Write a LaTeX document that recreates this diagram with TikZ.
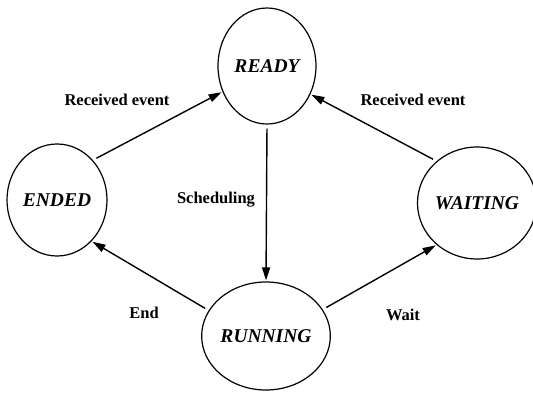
\documentclass[tikz,border=0pt]{standalone}
\usepackage{fontspec}
\setmainfont{Liberation Serif}
\usetikzlibrary{arrows.meta,shapes.geometric}

\begin{document}
\begin{tikzpicture}[x=1pt, y=1pt, >={Triangle[length=13pt,width=8pt]},
      state/.style={draw, ellipse, line width=1.2pt, inner sep=0pt,
      font=\fontsize{19.5}{21}\selectfont\bfseries\itshape},
      lbl/.style={font=\fontsize{16.5}{18}\selectfont\bfseries},
      arrow/.style={->, line width=1.4pt, shorten <=4pt, shorten >=1pt} ]

    \useasboundingbox (0,0) rectangle (533,392);

    % States
    \node[state, minimum width=98pt, minimum height=116pt] (ready) at
    (267,326) {READY}; \node[state, minimum width=100pt, minimum
    height=112pt] (ended) at (57,192) {ENDED}; \node[state, minimum
    width=96pt, minimum height=112pt] (waiting) at (477,189) {WAITING};
    \node[state, minimum width=100pt, minimum height=108pt] (running) at
    (266,56) {RUNNING};

    % Transition labels
    \node[lbl] (recleft) at (117,292) {Received event}; \node[lbl]
    (recright) at (413,292) {Received event}; \node[lbl] (sched) at
    (216,192) {Scheduling}; \node[lbl] (endlbl) at (144,79) {End};
    \node[lbl] (waitlbl) at (403,77) {Wait};

    % Transitions
    \draw[arrow] (ended.48) -- (ready.210); \draw[arrow] (waiting.134) --
    (ready.327); \draw[arrow] (ready.south) -- (running.north); \draw[arrow]
    (running.156) -- (ended.310); \draw[arrow] (running.25) --
    (waiting.226);

  \end{tikzpicture}
\end{document}
